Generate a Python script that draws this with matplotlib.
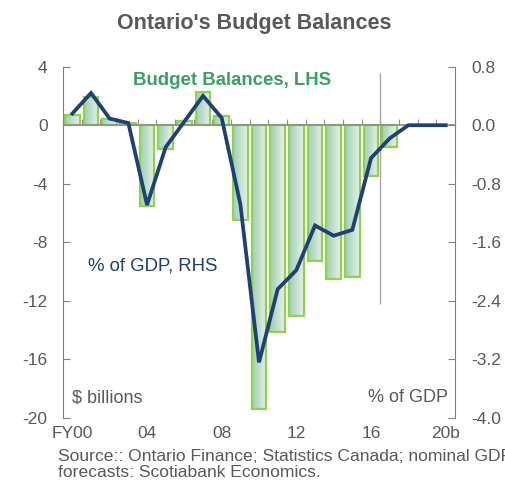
import numpy as np
import matplotlib.pyplot as plt
from matplotlib.colors import LinearSegmentedColormap

plt.rcParams['font.family'] = ['Liberation Sans', 'DejaVu Sans']
plt.rcParams['axes.unicode_minus'] = False

# fiscal years FY00 .. FY20 (last ones are forecasts)
years = list(range(21))
tick_pos = [0, 4, 8, 12, 16, 20]
tick_labels = ['FY00', '04', '08', '12', '16', '20b']

# budget balance, $ billions (LHS)
balance_bn = [0.67, 1.9, 0.4, 0.12, -5.5, -1.6, 0.3, 2.3, 0.6, -6.5,
              -19.4, -14.1, -13.0, -9.3, -10.5, -10.4, -3.5, -1.5, 0, 0, 0]
# budget balance, % of GDP (RHS)
balance_gdp = [0.16, 0.44, 0.09, 0.03, -1.09, -0.30, 0.05, 0.40, 0.10, -1.08,
               -3.24, -2.24, -1.98, -1.37, -1.51, -1.43, -0.45, -0.18, 0, 0, 0]

grey = '#595959'
fig = plt.figure(figsize=(5.05, 4.83), dpi=100)
ax = fig.add_axes([0.1248, 0.1346, 0.7762, 0.7274])
ax2 = ax.twinx()

# bars with a soft green gradient fill
cmap = LinearSegmentedColormap.from_list('bargrad', ['#9fcfb3', '#e6f2eb'])
grad = np.linspace(0, 1, 64).reshape(1, -1)
bars = ax.bar(years, balance_bn, width=0.8, facecolor='none',
              edgecolor='#92d050', linewidth=1.6, zorder=3)
for b, v in zip(bars, balance_bn):
    if v == 0:
        b.set_visible(False)
        continue
    x0 = b.get_x()
    im = ax.imshow(grad, cmap=cmap, aspect='auto', zorder=2,
                   extent=[x0, x0 + b.get_width(), min(0, v), max(0, v)])
    im.set_clip_path(b)
ax.set_xlim(-0.5, 20.5)
ax.set_ylim(-20, 4)
ax2.set_ylim(-4.0, 0.8)

ax.axhline(0, color='#8c8c8c', lw=1.2, zorder=4)
ax.vlines(16.5, -12.2, 3.6, color='#a6a6a6', lw=1, zorder=1)

ax2.plot(years, balance_gdp, color='#1f3f75', lw=2.7, zorder=5,
         solid_joinstyle='miter')

# axes styling
for a in (ax, ax2):
    a.spines['top'].set_visible(False)
    a.spines['bottom'].set_visible(False)
    a.spines['left'].set_color('#808080')
    a.spines['right'].set_color('#808080')
ax.spines['right'].set_visible(False)
ax2.spines['left'].set_visible(False)

ax.set_yticks(np.arange(-20, 5, 4))
ax.tick_params(axis='y', direction='in', length=5, color='#808080',
               labelcolor=grey, labelsize=12.5, pad=11)
rhs_ticks = np.round(np.arange(-4.0, 0.81, 0.8), 1)
ax2.set_yticks(rhs_ticks)
ax2.set_yticklabels([f'{v + 0.0:.1f}' for v in rhs_ticks])
ax2.tick_params(axis='y', direction='in', length=5, color='#808080',
                labelcolor=grey, labelsize=12.5, pad=12)

ax.set_xticks(tick_pos)
ax.set_xticklabels(tick_labels)
ax.tick_params(axis='x', length=0, labelcolor=grey, labelsize=12.5, pad=6)

# small tick marks between categories on the zero line
zero_frac = (0 - ax.get_ylim()[0]) / (ax.get_ylim()[1] - ax.get_ylim()[0])
sec = ax.secondary_xaxis(zero_frac)
sec.spines['bottom'].set_visible(False)
sec.spines['top'].set_visible(False)
sec.set_xticks(np.arange(-0.5, 21, 1))
sec.tick_params(axis='x', direction='out', length=4, color='#8c8c8c',
                labelbottom=False, labeltop=False)

ax.set_zorder(ax2.get_zorder() - 1)
ax.patch.set_visible(True)
ax2.patch.set_visible(False)

fig.text(0.503, 0.952, "Ontario's Budget Balances", ha='center', va='center',
         fontsize=15.5, fontweight='bold', color=grey)
ax.text(0.43, 0.96, 'Budget Balances, LHS', transform=ax.transAxes,
        ha='center', va='center', fontsize=13.4, fontweight='bold',
        color='#3d9e64')
ax.text(0.064, 0.433, '% of GDP, RHS', transform=ax.transAxes,
        ha='left', va='center', fontsize=13.4, color='#1f3f75')
ax.text(0.023, 0.057, '$ billions', transform=ax.transAxes,
        ha='left', va='center', fontsize=13, color=grey)
ax.text(0.982, 0.057, '% of GDP', transform=ax.transAxes,
        ha='right', va='center', fontsize=13, color=grey)

fig.text(0.115, 0.039,
         'Source:: Ontario Finance; Statistics Canada; nominal GDP\n'
         'forecasts: Scotiabank Economics.',
         ha='left', va='center', fontsize=12.6, color=grey, linespacing=1.1)

fig.savefig('out.png', dpi=100)
